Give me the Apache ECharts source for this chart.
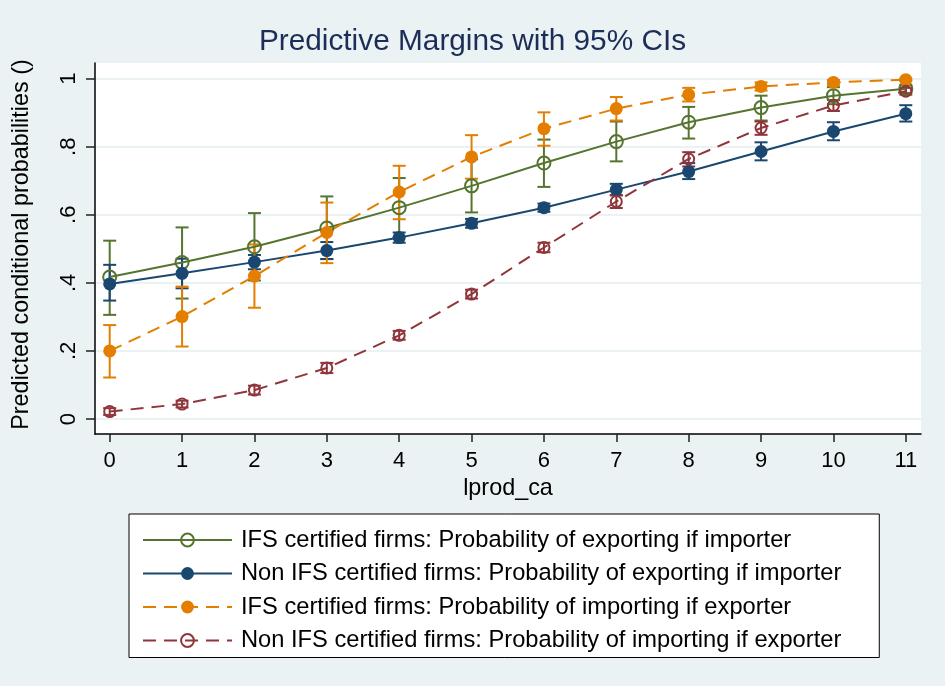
<!DOCTYPE html>
<html>
<head>
<meta charset="utf-8">
<script src="https://cdn.jsdelivr.net/npm/echarts@6/dist/echarts.min.js"></script>
<style>
html,body{margin:0;padding:0;background:#eaf2f3;}
#chart{width:945px;height:686px;}
</style>
</head>
<body>
<div id="chart"></div>
<script>
// ---- data ----
const xValues = [0, 1, 2, 3, 4, 5, 6, 7, 8, 9, 10, 11];
const xTicks = [0, 1, 2, 3, 4, 5, 6, 7, 8, 9, 10, 11];
const yTicks = [0, 0.2, 0.4, 0.6, 0.8, 1];
const yTickLabels = ['0', '.2', '.4', '.6', '.8', '1'];

const seriesNames = [
  'IFS certified firms: Probability of exporting if importer',
  'Non IFS certified firms: Probability of exporting if importer',
  'IFS certified firms: Probability of importing if exporter',
  'Non IFS certified firms: Probability of importing if exporter'
];

const ifsExport    = [0.417, 0.460, 0.506, 0.561, 0.621, 0.685, 0.752, 0.815, 0.872, 0.915, 0.950, 0.970];
const ifsExportLo  = [0.306, 0.354, 0.407, 0.470, 0.535, 0.607, 0.682, 0.757, 0.824, 0.877, 0.925, 0.958];
const ifsExportHi  = [0.524, 0.563, 0.605, 0.654, 0.708, 0.763, 0.821, 0.874, 0.917, 0.950, 0.975, 0.982];

const nonExport    = [0.397, 0.428, 0.461, 0.495, 0.533, 0.575, 0.621, 0.674, 0.727, 0.786, 0.845, 0.897];
const nonExportLo  = [0.348, 0.384, 0.440, 0.470, 0.518, 0.562, 0.609, 0.657, 0.705, 0.760, 0.819, 0.874];
const nonExportHi  = [0.453, 0.471, 0.482, 0.520, 0.548, 0.588, 0.633, 0.691, 0.752, 0.813, 0.872, 0.922];

const ifsImport    = [0.200, 0.301, 0.420, 0.548, 0.667, 0.770, 0.853, 0.912, 0.953, 0.977, 0.989, 0.997];
const ifsImportLo  = [0.122, 0.213, 0.327, 0.458, 0.587, 0.706, 0.803, 0.877, 0.933, 0.965, 0.982, 0.993];
const ifsImportHi  = [0.276, 0.389, 0.513, 0.636, 0.744, 0.834, 0.901, 0.946, 0.973, 0.989, 0.996, 1.000];

const nonImport    = [0.022, 0.044, 0.085, 0.150, 0.246, 0.367, 0.504, 0.639, 0.764, 0.855, 0.921, 0.963];
const nonImportLo  = [0.012, 0.034, 0.072, 0.135, 0.233, 0.354, 0.490, 0.620, 0.742, 0.835, 0.905, 0.953];
const nonImportHi  = [0.032, 0.054, 0.098, 0.165, 0.259, 0.380, 0.518, 0.658, 0.784, 0.874, 0.937, 0.973];

// ---- styling ----
const FONT = 'Liberation Sans, Arial, Helvetica, sans-serif';
const cGreen = '#55752f', cNavy = '#1a476f', cOrange = '#e37e00', cMaroon = '#90353b';

function pairs(vals) { return xValues.map((x, i) => [x, vals[i]]); }

function ciSeries(name, lo, hi, color) {
  return {
    type: 'custom',
    name: name + ' CI',
    silent: true,
    z: 2,
    data: xValues.map((x, i) => [x, lo[i], hi[i]]),
    encode: { x: 0, y: [1, 2] },
    renderItem: function (params, api) {
      const x = api.value(0);
      const p1 = api.coord([x, api.value(1)]);
      const p2 = api.coord([x, api.value(2)]);
      const w = 6.5;
      const st = { stroke: color, lineWidth: 2, fill: null };
      return {
        type: 'group',
        children: [
          { type: 'line', shape: { x1: p1[0], y1: p1[1], x2: p2[0], y2: p2[1] }, style: st },
          { type: 'line', shape: { x1: p1[0] - w, y1: p1[1], x2: p1[0] + w, y2: p1[1] }, style: st },
          { type: 'line', shape: { x1: p2[0] - w, y1: p2[1], x2: p2[0] + w, y2: p2[1] }, style: st }
        ]
      };
    }
  };
}

function lineSeries(name, vals, color, hollow, dashed, size) {
  return {
    type: 'line',
    name: name,
    z: 3,
    data: pairs(vals),
    symbol: 'circle',
    symbolSize: size,
    showSymbol: true,
    itemStyle: hollow
      ? { color: 'rgba(255,255,255,0)', borderColor: color, borderWidth: 2 }
      : { color: color, borderColor: color, borderWidth: 0 },
    lineStyle: { color: color, width: 2, type: dashed ? [13, 8] : 'solid' },
    emphasis: { disabled: true }
  };
}

const chart = echarts.init(document.getElementById('chart'), null, { renderer: 'canvas' });
chart.setOption({
  animation: false,
  backgroundColor: '#eaf2f3',
  textStyle: { fontFamily: FONT },
  title: {
    text: 'Predictive Margins with 95% CIs',
    left: 'center',
    top: 27,
    padding: 0,
    textStyle: { fontFamily: FONT, fontSize: 29.8, fontWeight: 'normal', color: '#1c2d57' }
  },
  grid: {
    left: 95, right: 24, top: 63, bottom: 252,
    show: true, backgroundColor: '#ffffff', borderWidth: 0
  },
  legend: {
    data: seriesNames,
    orient: 'vertical',
    left: 129,
    top: 514,
    itemWidth: 89,
    itemHeight: 16,
    itemGap: 9.5,
    padding: [14, 38, 5, 13],
    borderColor: '#000',
    borderWidth: 1,
    backgroundColor: '#ffffff',
    selectedMode: false,
    textStyle: { fontFamily: FONT, fontSize: 23.7, color: '#000', padding: [0, 0, 0, 4] }
  },
  xAxis: {
    type: 'value',
    min: -0.203,
    max: 11.21,
    name: 'lprod_ca',
    nameLocation: 'middle',
    nameGap: 33,
    nameTextStyle: { fontFamily: FONT, fontSize: 23.4, color: '#000' },
    axisLine: { show: true, onZero: false, lineStyle: { color: '#000', width: 1.5 } },
    axisTick: { show: true, length: 8, customValues: xTicks, lineStyle: { color: '#222', width: 1.5 } },
    axisLabel: { customValues: xTicks, fontFamily: FONT, fontSize: 22, color: '#000', margin: 16 },
    splitLine: { show: false }
  },
  yAxis: {
    type: 'value',
    min: -0.044,
    max: 1.046,
    name: 'Predicted conditional probabilities ()',
    nameLocation: 'middle',
    nameGap: 62,
    nameRotate: 90,
    nameTextStyle: { fontFamily: FONT, fontSize: 23.4, color: '#000', padding: [0, 0, 0, 8] },
    axisLine: { show: true, onZero: false, lineStyle: { color: '#000', width: 1.5 } },
    axisTick: { show: true, length: 9, customValues: yTicks, lineStyle: { color: '#222', width: 1.5 } },
    axisLabel: {
      customValues: yTicks,
      rotate: 90,
      fontFamily: FONT, fontSize: 22, color: '#000', margin: 15,
      formatter: function (v) {
        const i = yTicks.findIndex(t => Math.abs(t - v) < 1e-9);
        return i >= 0 ? yTickLabels[i] : '';
      }
    },
    splitLine: { show: true, lineStyle: { color: '#eaf2f3', width: 2 } }
  },
  series: [
    ciSeries(seriesNames[0], ifsExportLo, ifsExportHi, cGreen),
    ciSeries(seriesNames[1], nonExportLo, nonExportHi, cNavy),
    ciSeries(seriesNames[2], ifsImportLo, ifsImportHi, cOrange),
    ciSeries(seriesNames[3], nonImportLo, nonImportHi, cMaroon),
    lineSeries(seriesNames[0], ifsExport, cGreen, true, false, 13),
    lineSeries(seriesNames[1], nonExport, cNavy, false, false, 13),
    lineSeries(seriesNames[2], ifsImport, cOrange, false, true, 13),
    lineSeries(seriesNames[3], nonImport, cMaroon, true, true, 11)
  ]
});
</script>
</body>
</html>
